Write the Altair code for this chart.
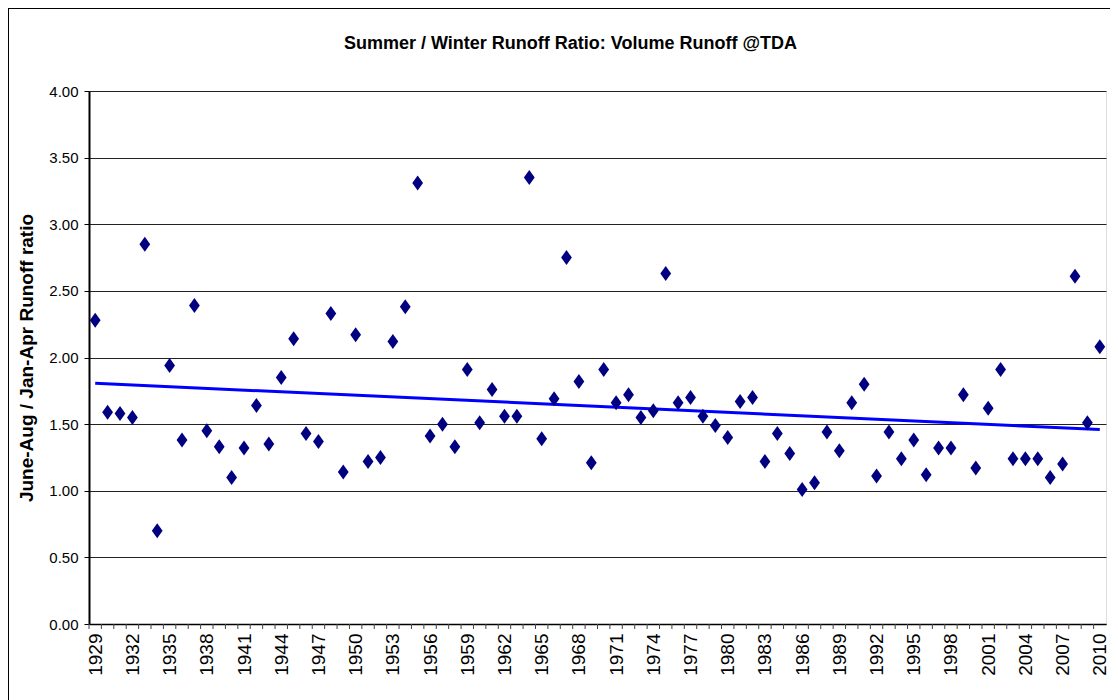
import altair as alt
import pandas as pd

years = list(range(1929, 2011))
ratios = [
    2.28, 1.59, 1.58, 1.55, 2.85, 0.70, 1.94, 1.38, 2.39, 1.45,
    1.33, 1.10, 1.32, 1.64, 1.35, 1.85, 2.14, 1.43, 1.37, 2.33,
    1.14, 2.17, 1.22, 1.25, 2.12, 2.38, 3.31, 1.41, 1.50, 1.33,
    1.91, 1.51, 1.76, 1.56, 1.56, 3.35, 1.39, 1.69, 2.75, 1.82,
    1.21, 1.91, 1.66, 1.72, 1.55, 1.60, 2.63, 1.66, 1.70, 1.56,
    1.49, 1.40, 1.67, 1.70, 1.22, 1.43, 1.28, 1.01, 1.06, 1.44,
    1.30, 1.66, 1.80, 1.11, 1.44, 1.24, 1.38, 1.12, 1.32, 1.32,
    1.72, 1.17, 1.62, 1.91, 1.24, 1.24, 1.24, 1.10, 1.20, 2.61,
    1.51, 2.08,
]
label_years = years[::3]
y_ticks = [0.0, 0.5, 1.0, 1.5, 2.0, 2.5, 3.0, 3.5, 4.0]

df = pd.DataFrame({"year": years, "ratio": ratios})

W = 1017
H = 533
FONT = "Liberation Sans"

x_scale = alt.Scale(domain=[1928.5, 2010.5], nice=False, zero=False)

x_axis = alt.Axis(
    values=label_years,
    format="d",
    labelAngle=270,
    labelAlign="right",
    labelBaseline="middle",
    labelFontSize=19,
    labelFont=FONT,
    labelColor="#000",
    labelPadding=9,
    labelOverlap=False,
    ticks=False,
    tickSize=0,
    domainColor="#000",
    domainWidth=1.5,
    grid=False,
    title=None,
)

y_enc = alt.Y(
    "ratio:Q",
    scale=alt.Scale(domain=[0, 4], nice=False),
    axis=alt.Axis(
        values=y_ticks,
        format=".2f",
        labelFontSize=15,
        labelFont=FONT,
        labelColor="#000",
        labelPadding=6,
        tickSize=5,
        tickColor="#000",
        domainColor="#000",
        domainWidth=2,
        grid=True,
        gridColor="#222",
        gridWidth=1,
        title="June-Aug / Jan-Apr Runoff ratio",
        titleFont=FONT,
        titleFontSize=19,
        titleFontWeight="bold",
        titleColor="#000",
        titlePadding=12,
    ),
)

diamond = "M0,-1L0.72,0L0,1L-0.72,0Z"

points = alt.Chart(df).mark_point(
    filled=True, shape=diamond, size=225, color="#000080", opacity=1
).encode(x=alt.X("year:Q", scale=x_scale, axis=x_axis), y=y_enc)

trend = alt.Chart(df).transform_regression("year", "ratio").mark_line(
    color="#0000FF", strokeWidth=3
).encode(x=alt.X("year:Q", scale=x_scale, axis=x_axis), y="ratio:Q")

# category boundary tick marks under the x axis
cat_ticks = alt.Chart(df).transform_calculate(
    boundary="datum.year - 0.5"
).mark_rule(color="#444", strokeWidth=1).encode(
    x=alt.X("boundary:Q", scale=x_scale, axis=x_axis),
    y=alt.value(H),
    y2=alt.value(H + 5),
)

frame_left = alt.Chart(df).mark_rule(color="#000", strokeWidth=1).encode(
    x=alt.value(-80.5), y=alt.value(-82.5), y2=alt.value(H + 80)
)
frame_top = alt.Chart(df).mark_rule(color="#000", strokeWidth=1).encode(
    x=alt.value(-80.5), x2=alt.value(W + 4), y=alt.value(-82.5)
)

chart = alt.layer(frame_left, frame_top, cat_ticks, trend, points).properties(
    width=W,
    height=H,
    autosize=alt.AutoSizeParams(type="none"),
    padding={"left": 81, "top": 83, "right": 4, "bottom": 76},
    title=alt.TitleParams(
        "Summer / Winter Runoff Ratio: Volume Runoff @TDA",
        font=FONT,
        fontSize=18,
        fontWeight="bold",
        color="#000",
        anchor="middle",
        baseline="alphabetic",
        offset=-59,
        dx=-27,
    ),
).configure_view(stroke="#000", strokeWidth=1).configure(background="white")

chart.save("out.html", embed_options={"renderer": "svg", "actions": False})
